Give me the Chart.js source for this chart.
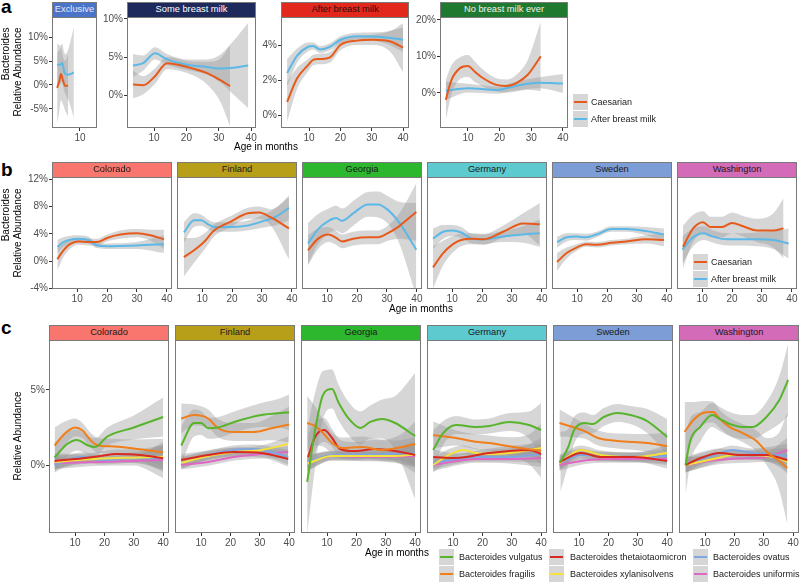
<!DOCTYPE html>
<html>
<head>
<meta charset="utf-8">
<script src="https://cdn.jsdelivr.net/npm/chart.js@4.4.1/dist/chart.umd.min.js"></script>
<style>
  body { margin: 0; background: #fff; font-family: "Liberation Sans", Arial, sans-serif; }
  #fig { position: relative; width: 800px; height: 582px; overflow: hidden; }
  #fig canvas { position: absolute; }
  .strip { position: absolute; box-sizing: border-box; border: 1px solid #7a7a7a; font-size: 9.3px;
           line-height: 13px; text-align: center; white-space: nowrap; overflow: hidden; }
  .letter { position: absolute; font-weight: bold; font-size: 19px; line-height: 19px; }
  .title { position: absolute; font-size: 10px; line-height: 12px; white-space: nowrap; color: #000; }
  .ytitle { position: absolute; font-size: 10px; line-height: 12px; white-space: nowrap; text-align: right;
            transform: translate(-50%, -50%) rotate(-90deg); }
  .key { position: absolute; width: 15px; height: 16px; background: #d6d6d6; }
  .key i { position: absolute; left: 1px; right: 1px; top: 7px; height: 2px; }
  .ltext { position: absolute; font-size: 9px; line-height: 16px; white-space: nowrap; color: #1a1a1a; }
</style>
</head>
<body>
<div id="fig"></div>
<script>
// ---- categories ----
const deliveryGroups = ['Caesarian', 'After breast milk'];
const feedingGroups = ['Exclusive', 'Some breast milk', 'After breast milk', 'No breast milk ever'];
const sites = ['Colorado', 'Finland', 'Georgia', 'Germany', 'Sweden', 'Washington'];
const species = ['Bacteroides vulgatus', 'Bacteroides fragilis', 'Bacteroides thetaiotaomicron',
                 'Bacteroides xylanisolvens', 'Bacteroides ovatus', 'Bacteroides uniformis'];

// ---- tick labels ----
const xTickVals = [10, 20, 30, 40];
const aYTicks = [[-5, 0, 5, 10], [0, 5, 10], [0, 2, 4], [0, 10, 20]];
const bYTicks = [-4, 0, 4, 8, 12];
const cYTicks = [0, 5];

// ---- series: [age in months, smoothed %, half width of the band] ----
// row a: [Caesarian, After breast milk]
const aExclusive = [
  [[2.9,-0.6,7.5],[3.5,0.6,6.5],[4.1,2.3,5.5],[4.7,1.0,5],[5.4,-0.2,5.2],[6.3,-0.1,6.5]],
  [[2.9,4.2,4.5],[3.8,4.2,4],[4.5,4.6,4],[5.0,3.0,4],[5.5,2.2,4.2],[6.5,2.2,5.5],[8.1,2.6,9.5]]
];
const aSome = [
  [[3.5,1.4,1.8],[6.6,1.3,1.2],[10.3,2.5,1.0],[14,4.2,0.8],[20.2,3.7,0.8],[26.4,2.9,1.5],[30.4,2.0,2.8],[33.5,1.2,5.3]],
  [[3.5,3.9,1.5],[6.6,4.2,1.0],[10.3,5.5,0.8],[14,4.7,0.7],[20.2,4.0,0.7],[26.4,3.7,1.0],[30.4,3.5,1.8],[34.5,3.6,3.5],[39.1,3.9,5.6]]
];
const aAfter = [
  [[3,0.75,1.15],[6.2,2.1,0.6],[9.7,2.85,0.35],[11.3,3.15,0.3],[13.5,3.2,0.3],[16.7,3.3,0.3],[20,4.0,0.3],[25.4,4.25,0.25],[30.5,4.3,0.3],[36,4.2,0.6],[40,3.85,1.4]],
  [[3,2.4,0.8],[6.2,3.4,0.4],[9.7,3.9,0.25],[11.3,3.95,0.2],[13.5,3.75,0.2],[16.7,3.9,0.2],[20,4.3,0.2],[25.4,4.5,0.2],[33.7,4.45,0.3],[40,4.3,0.7]]
];
const aNone = [
  [[3,-1.9,5.5],[4.8,3.6,4],[7.5,6.8,3],[10,7.4,3],[12.2,5.8,2.8],[14.7,4.1,2.3],[19,2.2,1.8],[22.2,1.9,1.8],[25.3,2.7,2.3],[28.8,4.9,4],[33,10.0,9.5]],
  [[3,0.6,2.5],[10,1.3,1.2],[19,0.8,1],[25,1.9,1.2],[32.5,2.8,1.5],[40,2.6,2.6]]
];

// row b: [Caesarian, After breast milk]
const bColorado = [
  [[3.4,0.3,1.6],[5.4,1.6,1.0],[7.6,2.5,0.7],[10.3,2.9,0.5],[13.7,2.8,0.5],[16.7,2.8,0.5],[20,3.4,0.5],[24.4,3.9,0.6],[30,4.1,0.6],[34.5,3.8,0.8],[39,3.2,1.4]],
  [[3.4,2.1,1.0],[5.4,2.8,0.7],[10.3,3.3,0.5],[13.7,3.1,0.5],[16.7,2.3,0.4],[20,2.2,0.4],[30,2.3,0.5],[39,2.5,1.3]]
];
const bFinland = [
  [[3.9,0.6,2.8],[7.3,1.6,1.8],[10.6,2.8,1.2],[14,4.5,0.9],[19.6,5.8,0.8],[25.3,7.0,0.8],[29,7.1,0.9],[33,6.4,1.2],[39,4.8,4.5]],
  [[3.9,4.2,1.5],[7.3,6.0,1.0],[9.7,6.0,0.8],[12,5.4,0.7],[14,5.0,0.7],[19.6,5.0,0.7],[25,5.2,0.7],[30,5.8,0.9],[35,6.6,1.3],[39,7.8,1.8]]
];
const bGeorgia = [
  [[3.6,1.6,2.2],[7,3.3,1.5],[10.5,3.9,1.1],[13,3.4,1.0],[15,2.9,1.0],[18.7,3.3,1.0],[23.6,3.5,1.0],[27,3.5,1.0],[30.3,4.1,1.1],[34,5.1,1.8],[39.8,7.2,4.2]],
  [[3.6,2.6,3.0],[7,4.7,2.2],[10.5,5.9,1.8],[13,6.3,1.8],[15,5.9,1.8],[18.7,7.0,1.8],[23.6,8.3,1.8],[27,8.3,1.9],[30.3,7.5,2.0],[34,5.7,3.0],[39.8,1.7,6.8]]
];
const bGermany = [
  [[3.6,-0.9,3.1],[7,1.2,1.8],[10.3,2.5,1.2],[13,3.1,0.9],[16.7,3.3,0.8],[20.4,3.2,0.8],[27,4.3,0.9],[33.7,5.5,1.5],[39.3,5.4,3.1]],
  [[3.6,3.3,1.5],[7,4.3,1.0],[10.3,4.5,0.8],[13,4.2,0.8],[16.7,3.3,0.7],[20.4,3.2,0.7],[27,3.6,0.8],[33.7,3.9,1.2],[39.3,4.1,2.0]]
];
const bSweden = [
  [[3.3,-0.1,1.3],[6.5,1.2,0.8],[9.8,2.0,0.5],[13,2.5,0.4],[16.5,2.4,0.4],[21.5,2.7,0.4],[26.5,2.9,0.4],[33,3.2,0.6],[39,3.1,0.9]],
  [[3.3,2.8,0.8],[6.5,3.5,0.6],[9.8,3.6,0.5],[13,3.5,0.5],[16.5,3.9,0.4],[21.5,4.7,0.4],[26.5,4.7,0.4],[33,4.4,0.6],[39,3.9,0.9]]
];
const bWashington = [
  [[3.6,2.1,3.1],[7,4.8,2.0],[10.3,5.7,1.6],[12.7,5.0,1.5],[16.7,5.0,1.5],[20,5.6,1.5],[23.7,5.1,1.5],[28.3,4.5,1.7],[33.8,4.5,2.5],[37.2,4.8,4.4]],
  [[3.4,1.7,2.0],[7,3.5,1.3],[10.4,4.1,1.0],[13.7,3.6,0.9],[18.3,3.2,0.9],[22.8,3.2,0.9],[28.3,3.2,1.0],[33.8,3.1,1.3],[38.9,2.6,2.2]]
];

// row c: [vulgatus, fragilis, thetaiotaomicron, xylanisolvens, ovatus, uniformis]
const cColorado = [
  [[3,0.5,1.0],[7.3,1.4,0.8],[10.6,1.67,0.7],[14.4,1.3,0.6],[16.8,1.2,0.6],[21,1.9,0.6],[30,2.5,0.8],[40,3.2,1.3]],
  [[3,1.3,1.2],[6.5,2.1,0.8],[10,2.5,0.6],[12.5,2.3,0.5],[15.5,1.6,0.5],[18,1.3,0.5],[22,1.25,0.5],[30,1.1,0.6],[40,0.85,0.9]],
  [[3,0.27,0.5],[12.7,0.45,0.3],[18.5,0.6,0.3],[24,0.73,0.3],[32,0.67,0.4],[40,0.45,0.9]],
  [[3,0.2,0.5],[12,0.35,0.3],[22,0.45,0.3],[32,0.5,0.4],[40,0.55,0.8]],
  [[3,0.0,0.5],[9.3,0.45,0.3],[12.7,0.55,0.3],[18.5,0.33,0.3],[30,0.45,0.3],[40,0.45,0.8]],
  [[3,0.13,0.4],[18.5,0.2,0.25],[30,0.27,0.3],[40,0.33,1.2]]
];
const cFinland = [
  [[3.2,1.3,1.3],[7.6,2.8,0.9],[10,2.8,0.8],[12.4,2.45,0.7],[15.8,2.5,0.7],[21.3,2.87,0.7],[30.5,3.33,0.8],[37.3,3.47,1.0],[40,3.5,1.2]],
  [[3.2,3.1,1.0],[7.6,3.33,0.7],[12.4,3.1,0.6],[15.8,2.45,0.6],[21.3,2.2,0.6],[28,2.2,0.6],[34,2.45,0.8],[40,2.7,1.2]],
  [[3.2,0.33,0.4],[12.4,0.67,0.3],[21,0.87,0.3],[30.5,0.8,0.3],[39.7,0.4,0.5]],
  [[3.2,0.15,0.4],[12.4,0.6,0.3],[21,0.85,0.3],[30.5,1.0,0.3],[39.7,1.4,0.5]],
  [[3.2,0.13,0.4],[12.4,0.67,0.3],[21,1.0,0.3],[28,1.07,0.3],[39.7,0.53,0.5]],
  [[3.2,0.0,0.3],[12.4,0.2,0.25],[21,0.53,0.25],[30.5,0.73,0.3],[39.7,0.87,0.4]]
];
const cGeorgia = [
  [[3.2,-1.13,3.5],[5.9,2.33,2.5],[8.6,4.67,1.6],[11.7,5.07,1.3],[13.8,4.2,1.2],[17.2,3.13,1.1],[21.3,2.47,1.1],[24.7,2.87,1.1],[28.8,3.07,1.3],[33.2,2.8,1.8],[40,1.93,4.2]],
  [[3.2,2.8,1.8],[5.9,2.6,1.3],[8.6,2.13,0.9],[11.7,1.47,0.7],[15.1,1.13,0.7],[21.9,1.2,0.7],[28.8,1.0,0.7],[35.6,1.2,0.9],[40,1.4,1.5]],
  [[3.5,0.53,1.5],[5.9,1.87,1.0],[9,2.33,0.8],[11.7,1.8,0.6],[14.4,1.07,0.6],[19.6,0.93,0.6],[26.4,1.07,0.6],[33.2,0.93,0.7],[40,0.67,1.2]],
  [[3.2,0.1,0.5],[11.7,0.6,0.3],[22,0.6,0.3],[33,0.6,0.4],[40,0.7,0.8]],
  [[3.2,0.2,0.5],[11.7,0.67,0.3],[22,0.7,0.3],[33,0.75,0.4],[40,0.8,0.8]],
  [[3.2,0.13,0.5],[11.7,0.6,0.3],[22,0.55,0.3],[33,0.55,0.4],[40,0.6,0.8]]
];
const cGermany = [
  [[3.2,1.0,1.3],[6.6,2.13,0.8],[11,2.67,0.6],[17.8,2.53,0.5],[22.3,2.6,0.5],[29.1,2.87,0.6],[35.9,2.67,0.9],[40,2.33,1.8]],
  [[3.2,2.0,0.9],[11,1.8,0.5],[17.8,1.55,0.5],[22.3,1.47,0.5],[29.1,1.25,0.6],[35.9,1.05,1.0],[40,0.95,1.8]],
  [[3.2,0.53,0.5],[11,0.47,0.3],[22.3,0.8,0.3],[35.9,1.0,0.4],[40,0.73,0.7]],
  [[3.2,0.0,0.5],[8.6,0.67,0.4],[13.4,1.0,0.3],[17.8,0.8,0.3],[22.3,0.73,0.3],[29.1,0.8,0.3],[35.9,1.0,0.4],[40,1.13,0.7]],
  [[3.2,0.13,0.4],[17.8,0.53,0.3],[29.1,0.53,0.3],[40,0.73,0.6]],
  [[3.2,0.0,0.4],[17.8,0.4,0.25],[29.1,0.4,0.3],[40,0.47,0.6]]
];
const cSweden = [
  [[3.6,0.2,2.0],[6.3,1.2,1.2],[8.3,2.33,0.9],[11.7,2.8,0.7],[14.7,2.73,0.6],[18.4,3.2,0.6],[23.1,3.47,0.6],[27.5,3.33,0.6],[33.2,2.93,0.8],[40,1.87,1.2]],
  [[3.3,2.8,0.9],[11.7,2.27,0.5],[16.4,1.8,0.5],[23.1,1.6,0.5],[33.2,1.47,0.6],[40,1.27,0.9]],
  [[3.3,0.2,0.5],[10.7,0.8,0.3],[17.4,0.53,0.3],[28.5,0.53,0.3],[40,0.27,0.5]],
  [[3.3,0.13,0.5],[10.7,1.0,0.3],[17.4,0.67,0.3],[28.5,0.53,0.3],[40,0.8,0.5]],
  [[3.3,0.13,0.4],[10.7,0.67,0.3],[17.4,0.6,0.3],[28.5,0.53,0.3],[40,0.6,0.5]],
  [[3.3,0.0,0.4],[10.7,0.27,0.25],[20,0.4,0.25],[30,0.4,0.25],[40,0.4,0.4]]
];
const cWashington = [
  [[3.3,0.0,2.0],[5,1.67,1.5],[8.3,2.53,1.0],[12.4,3.33,0.8],[15,3.07,0.8],[18.4,2.73,0.8],[22.8,2.53,0.8],[26.2,2.53,0.8],[30.9,3.2,1.0],[35.3,4.33,1.6],[38.3,5.67,2.4]],
  [[3,2.2,2.0],[6,3.0,1.2],[9.3,3.47,0.8],[12.7,3.53,0.7],[15,3.07,0.6],[18.4,2.53,0.6],[22.8,2.13,0.6],[27.5,1.6,0.7],[30.9,0.9,0.9],[35,0.3,1.8],[38,-0.2,3.7]],
  [[3.3,0.0,0.5],[8.3,0.45,0.4],[15,0.8,0.3],[21.7,0.67,0.3],[30.9,0.67,0.4],[38,0.33,0.8]],
  [[3.3,0.0,0.5],[14,0.45,0.3],[19.4,0.67,0.3],[26,0.67,0.3],[35,0.45,0.4],[38,0.2,0.8]],
  [[3.3,0.0,0.5],[15,0.8,0.3],[19.4,1.0,0.3],[26,0.8,0.3],[38,0.6,0.8]],
  [[3.3,0.0,0.5],[14,0.33,0.3],[24,0.45,0.3],[30,0.5,0.3],[38,1.0,0.8]]
];

// ---- styles ----
const BAND = 'rgba(153,153,153,0.4)';
const deliveryColors = ['#E65A1B', '#5CB8E6'];
const speciesColors = ['#58B42C', '#F07E1A', '#D92A1F', '#F6E13A', '#7FA6E1', '#E067C3'];
const feedingStrip = ['#4A74C9', '#1E2A5C', '#E2271D', '#1F7A30'];
const feedingStripText = ['#E6EAF7', '#FFFFFF', '#2A1010', '#F2F2F2'];
const siteStrip = ['#F8766D', '#B89F1A', '#2DB72F', '#5DCAD0', '#7C9DD5', '#D46BB9'];

const fig = document.getElementById('fig');
Chart.defaults.font.family = '"Liberation Sans", Arial, sans-serif';

// frame round each panel, like the ggplot panel border
const panelBox = {
  id: 'panelBox',
  afterDatasetsDraw(chart) {
    const { ctx, chartArea: a } = chart;
    ctx.save();
    ctx.strokeStyle = '#7a7a7a';
    ctx.lineWidth = 1;
    ctx.strokeRect(a.left + 0.5, a.top + 0.5, a.right - a.left - 1, a.bottom - a.top - 1);
    ctx.restore();
  }
};

function addDiv(cls, html, css) {
  const d = document.createElement('div');
  d.className = cls;
  d.innerHTML = html;
  Object.assign(d.style, css);
  fig.appendChild(d);
  return d;
}

function drawPanel(p) {
  const padT = 8, padR = 8, xH = 18;
  const yW = p.yTicks ? 34 : 0;
  const plotH = p.bottom - p.top;
  const W = yW + p.width + padR, H = padT + plotH + xH;

  addDiv('strip', p.label, {
    left: p.left + 'px', top: p.stripTop + 'px', width: p.width + 'px',
    height: (p.top - p.stripTop + 1) + 'px', background: p.stripBg, color: p.stripFg
  });

  const cv = document.createElement('canvas');
  cv.width = W; cv.height = H;
  cv.style.left = (p.left - yW) + 'px';
  cv.style.top = (p.top - padT) + 'px';
  cv.style.width = W + 'px';
  cv.style.height = H + 'px';
  fig.appendChild(cv);

  const line = { pointRadius: 0, cubicInterpolationMode: 'monotone' };
  const datasets = [];
  p.series.forEach(s => {
    datasets.push(Object.assign({ data: s.map(r => ({ x: r[0], y: r[1] + r[2] })), order: 1, fill: false,
      borderWidth: 0, borderColor: 'rgba(0,0,0,0)' }, line));
    datasets.push(Object.assign({ data: s.map(r => ({ x: r[0], y: r[1] - r[2] })), order: 1, fill: '-1',
      backgroundColor: BAND, borderWidth: 0, borderColor: 'rgba(0,0,0,0)' }, line));
  });
  p.series.forEach((s, i) => {
    datasets.push(Object.assign({ data: s.map(r => ({ x: r[0], y: r[1] })), order: 0, fill: false,
      borderColor: p.colors[i], borderWidth: 2 }, line));
  });

  new Chart(cv, {
    type: 'line',
    data: { datasets },
    options: {
      responsive: false,
      animation: false,
      events: [],
      layout: { autoPadding: false, padding: { top: padT, right: padR, left: 0, bottom: 0 } },
      plugins: { legend: { display: false }, tooltip: { enabled: false } },
      scales: {
        x: {
          type: 'linear', min: p.xMin, max: p.xMax,
          afterBuildTicks: s => { s.ticks = xTickVals.filter(v => v >= s.min && v <= s.max).map(v => ({ value: v })); },
          afterFit: s => { s.height = xH; },
          grid: { drawOnChartArea: false, drawTicks: true, tickLength: 3, color: '#333' },
          border: { display: false },
          ticks: { color: '#4d4d4d', font: { size: 10 }, padding: 1, maxRotation: 0, autoSkip: false }
        },
        y: {
          type: 'linear', min: p.yMin, max: p.yMax, display: !!p.yTicks,
          afterBuildTicks: s => { s.ticks = (p.yTicks || []).map(v => ({ value: v })); },
          afterFit: s => { s.width = yW; },
          grid: { drawOnChartArea: false, drawTicks: true, tickLength: 3, color: '#333' },
          border: { display: false },
          ticks: { color: '#4d4d4d', font: { size: 10 }, padding: 1, autoSkip: false, callback: v => v + '%' }
        }
      }
    },
    plugins: [panelBox]
  });
}

// ---- row a ----
const aSeries = [aExclusive, aSome, aAfter, aNone];
const aLeft = [52, 127, 281, 440], aWidth = [45, 129, 128, 128];
const aX = [[1.3, 15.3], [1.64, 41.5], [1.05, 41.9], [1.17, 41.6]];
const aY = [[-9, 14.2], [-4.3, 10.26], [-0.74, 5.6], [-9.6, 20.8]];
feedingGroups.forEach((g, i) => drawPanel({
  label: g, stripBg: feedingStrip[i], stripFg: feedingStripText[i],
  left: aLeft[i], width: aWidth[i], stripTop: 2, top: 17, bottom: 128,
  xMin: aX[i][0], xMax: aX[i][1], yMin: aY[i][0], yMax: aY[i][1], yTicks: aYTicks[i],
  series: aSeries[i], colors: deliveryColors
}));

// ---- row b ----
const bSeries = [bColorado, bFinland, bGeorgia, bGermany, bSweden, bWashington];
sites.forEach((s, i) => drawPanel({
  label: s, stripBg: siteStrip[i], stripFg: '#1a1a1a',
  left: 52 + 125 * i, width: 120, stripTop: 162, top: 177, bottom: 289,
  xMin: 1.6, xMax: 41.7, yMin: -4.05, yMax: 12.3, yTicks: i === 0 ? bYTicks : null,
  series: bSeries[i], colors: deliveryColors
}));

// ---- row c ----
const cSeries = [cColorado, cFinland, cGeorgia, cGermany, cSweden, cWashington];
sites.forEach((s, i) => drawPanel({
  label: s, stripBg: siteStrip[i], stripFg: '#1a1a1a',
  left: 49 + 126 * i, width: 120, stripTop: 325, top: 340, bottom: 533,
  xMin: 1.1, xMax: 42, yMin: -4.53, yMax: 8.33, yTicks: i === 0 ? cYTicks : null,
  series: cSeries[i], colors: speciesColors
}));

// ---- panel letters, axis titles ----
addDiv('letter', 'a', { left: '1px', top: '-3px' });
addDiv('letter', 'b', { left: '1px', top: '160px' });
addDiv('letter', 'c', { left: '1px', top: '318px' });

addDiv('ytitle', 'Bacteroides<br>Relative Abundance', { left: '12px', top: '72px' });
addDiv('ytitle', 'Bacteroides<br>Relative Abundance', { left: '12px', top: '233px' });
addDiv('ytitle', 'Relative Abundance', { left: '18px', top: '436px' });

function xTitle(cx, cy) {
  const d = addDiv('title', 'Age in months', { top: (cy - 6) + 'px' });
  d.style.left = (cx - d.offsetWidth / 2) + 'px';
}
xTitle(266, 147);
xTitle(421, 309);
xTitle(397, 553);

// ---- legends ----
function legendItem(kx, ky, tx, color, text) {
  const k = addDiv('key', '<i></i>', { left: kx + 'px', top: ky + 'px' });
  k.firstChild.style.background = color;
  addDiv('ltext', text, { left: tx + 'px', top: ky + 'px' });
}
deliveryGroups.forEach((g, i) => legendItem(573, 94 + 17 * i, 591, deliveryColors[i], g));
deliveryGroups.forEach((g, i) => legendItem(693, 254 + 17 * i, 711, deliveryColors[i], g));
const cKeyX = [439, 549, 693], cTextX = [459, 570, 713];
species.forEach((s, i) => {
  const col = Math.floor(i / 2), row = i % 2;
  legendItem(cKeyX[col], 549 + 17 * row, cTextX[col], speciesColors[i], s);
});
</script>
</body>
</html>
